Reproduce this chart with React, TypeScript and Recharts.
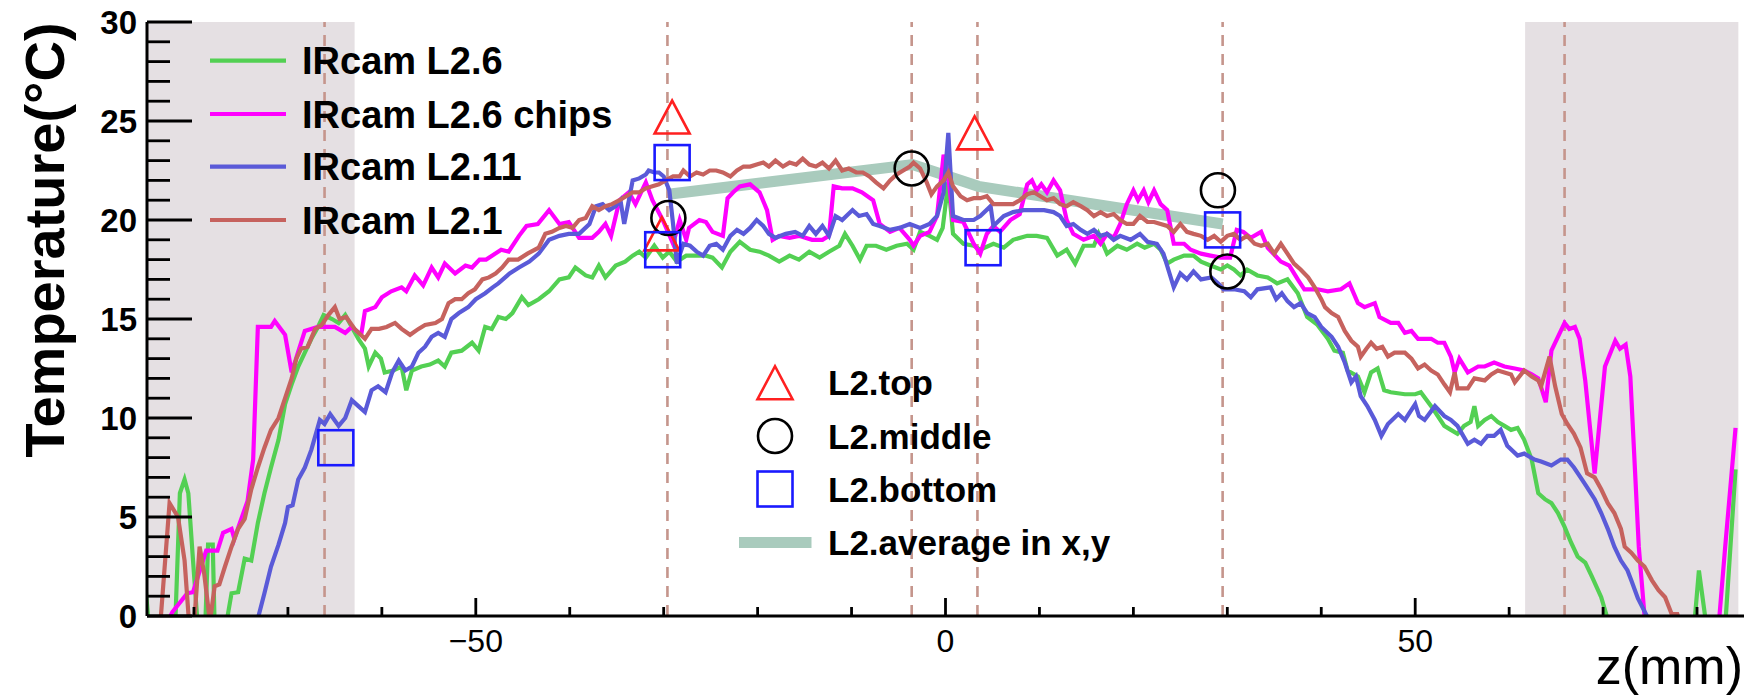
import React from 'react';
import { ComposedChart, Line, Scatter, XAxis, YAxis, ReferenceArea, ReferenceLine } from 'recharts';

if (typeof document !== 'undefined') {
  document.body.style.margin = '0';
  document.body.style.overflow = 'hidden';
}

const W = 1759;
const H = 698;
const FONT = '"Liberation Sans", Arial, Helvetica, sans-serif';

// ---- axes / ticks ----
const zDomain: [number, number] = [-85, 85];
const tDomain: [number, number] = [0, 30];
const zTicks = [-80, -70, -60, -50, -40, -30, -20, -10, 0, 10, 20, 30, 40, 50, 60, 70, 80];
const zLabelTicks = [-50, 0, 50];
const tTicks = [0, 1, 2, 3, 4, 5, 6, 7, 8, 9, 10, 11, 12, 13, 14, 15, 16, 17, 18, 19, 20, 21, 22, 23, 24, 25, 26, 27, 28, 29, 30];
const tLabelTicks = [0, 5, 10, 15, 20, 25, 30];
const dashedZ = [-66.1, -29.6, -3.6, 3.4, 29.5, 65.9];
const shadedZ: [number, number][] = [[-85, -62.9], [61.7, 84.4]];

// ---- series: [z (mm), temperature (C)] ----
const irL26: [number, number][] = [
  [-85.2, 1.7], [-84.8, -0.5], [-82.0, -0.5], [-81.5, 6.2], [-81.0, 6.9], [-80.6, 6.2], [-80.1, 2.8], [-79.6, -0.5], [-78.8, -0.5], [-78.5, 3.6], [-78.0, 3.6], [-77.8, -0.5], [-76.6, -0.5], [-76.0, 1.15], [-75.3, 1.2], [-74.6, 2.9], [-73.9, 2.8], [-73.2, 4.7], [-72.5, 6.2], [-71.8, 7.5], [-71.0, 8.9], [-70.3, 10.7], [-69.6, 11.7], [-68.9, 12.6], [-68.2, 13.3], [-67.5, 14.0], [-66.8, 14.6], [-66.2, 15.2], [-65.3, 15.0], [-64.6, 14.8], [-63.9, 15.2], [-63.2, 14.6], [-62.5, 14.0], [-61.8, 13.5], [-61.4, 12.6], [-60.7, 13.3], [-60.1, 13.0], [-59.7, 12.3], [-58.8, 12.4], [-57.9, 12.6], [-57.4, 11.4], [-56.8, 12.4], [-55.8, 12.6], [-54.9, 12.7], [-54.0, 12.9], [-53.3, 12.6], [-52.6, 13.3], [-51.5, 13.4], [-50.4, 13.8], [-49.7, 13.4], [-49.0, 14.6], [-48.3, 14.5], [-47.6, 15.1], [-46.8, 15.0], [-46.1, 15.3], [-45.1, 16.1], [-44.4, 15.7], [-43.3, 16.0], [-42.2, 16.4], [-41.1, 17.0], [-40.1, 17.1], [-39.4, 17.6], [-38.3, 17.2], [-37.6, 17.1], [-36.9, 17.7], [-36.2, 17.1], [-35.1, 17.7], [-34.1, 17.9], [-33.3, 18.2], [-32.6, 18.4], [-31.9, 18.1], [-31.0, 18.7], [-30.1, 18.1], [-29.4, 18.4], [-28.6, 17.9], [-27.6, 18.2], [-26.5, 18.2], [-25.5, 18.2], [-24.8, 18.1], [-23.8, 17.6], [-22.9, 18.4], [-21.9, 18.9], [-20.8, 18.5], [-19.8, 18.4], [-18.8, 18.2], [-17.7, 17.9], [-16.6, 18.2], [-15.6, 18.0], [-14.5, 18.4], [-13.4, 18.1], [-12.4, 18.4], [-11.3, 18.7], [-10.7, 19.3], [-9.9, 18.7], [-9.1, 18.0], [-8.4, 18.7], [-7.4, 18.7], [-6.3, 18.5], [-5.2, 18.7], [-4.1, 18.8], [-3.4, 18.5], [-2.7, 19.4], [-1.7, 19.2], [-0.9, 19.0], [-0.3, 19.6], [0.3, 21.9], [0.8, 19.3], [1.9, 18.8], [3.0, 18.7], [3.7, 18.5], [5.1, 18.8], [6.2, 18.6], [7.2, 19.0], [8.7, 19.2], [9.7, 19.2], [10.8, 19.1], [11.9, 18.2], [12.9, 18.5], [13.8, 17.8], [14.7, 18.7], [15.8, 18.7], [16.3, 19.3], [17.2, 18.3], [18.3, 18.7], [19.3, 18.5], [20.4, 18.8], [21.2, 18.6], [22.2, 18.8], [22.9, 18.5], [23.6, 17.8], [24.3, 18.0], [25.4, 18.2], [26.4, 18.2], [27.2, 17.9], [28.2, 17.7], [29.3, 17.5], [30.0, 17.7], [30.7, 17.5], [31.4, 17.2], [32.1, 17.5], [33.2, 17.2], [34.3, 17.1], [35.3, 16.8], [36.4, 17.0], [37.5, 16.3], [38.5, 15.1], [39.6, 14.7], [40.7, 14.0], [41.4, 13.4], [42.3, 13.3], [42.8, 12.4], [43.9, 12.1], [44.6, 11.3], [45.3, 12.3], [46.0, 12.5], [46.7, 11.4], [47.4, 11.3], [48.9, 11.2], [50.0, 11.2], [50.6, 11.3], [51.7, 10.6], [52.4, 10.1], [53.1, 9.6], [53.8, 9.4], [54.5, 9.2], [55.2, 9.6], [55.9, 9.8], [56.3, 10.6], [56.7, 9.6], [57.4, 9.9], [58.1, 10.1], [58.8, 9.8], [59.5, 9.6], [60.2, 9.4], [60.9, 9.5], [61.6, 8.9], [62.4, 7.9], [63.1, 6.2], [63.8, 5.9], [64.5, 5.7], [65.2, 5.2], [65.9, 4.5], [66.6, 3.7], [67.3, 3.0], [68.1, 2.7], [68.8, 2.0], [69.8, 0.95], [70.7, -0.5], [79.7, -0.5], [80.2, 2.3], [81.0, -0.5], [83.0, -0.5], [84.1, 7.4],
];

const irL26chips: [number, number][] = [
  [-83.0, -0.5], [-82.3, 0.2], [-80.7, 1.15], [-80.1, 1.2], [-78.7, 3.3], [-77.5, 3.3], [-76.9, 4.2], [-76.0, 4.4], [-75.7, 3.9], [-74.3, 5.8], [-73.7, 7.9], [-73.2, 14.6], [-71.8, 14.6], [-71.4, 14.9], [-70.3, 14.2], [-69.6, 12.3], [-68.2, 14.4], [-66.8, 14.6], [-65.0, 14.6], [-63.9, 14.3], [-63.2, 14.6], [-62.2, 14.2], [-61.8, 15.4], [-60.7, 15.6], [-60.0, 16.1], [-59.0, 16.4], [-57.9, 16.6], [-57.4, 16.4], [-56.5, 17.2], [-55.6, 16.7], [-54.7, 17.6], [-54.0, 17.1], [-53.3, 17.8], [-52.2, 17.3], [-51.1, 17.7], [-50.4, 17.6], [-49.6, 18.0], [-48.9, 18.0], [-47.3, 18.5], [-46.5, 18.4], [-45.4, 19.2], [-44.6, 19.7], [-43.4, 19.8], [-42.2, 20.5], [-41.1, 19.8], [-40.1, 19.9], [-39.0, 19.1], [-37.6, 19.1], [-36.9, 19.4], [-36.2, 19.8], [-35.6, 19.2], [-34.7, 21.0], [-33.7, 21.4], [-33.0, 20.8], [-31.9, 21.9], [-31.2, 21.0], [-30.1, 20.0], [-29.0, 18.8], [-28.3, 20.0], [-27.6, 19.0], [-27.3, 19.6], [-26.2, 20.0], [-25.5, 19.9], [-24.8, 19.4], [-23.7, 19.2], [-23.2, 21.1], [-22.6, 21.4], [-21.9, 21.7], [-20.8, 21.8], [-19.8, 21.4], [-19.0, 20.5], [-18.4, 19.0], [-17.7, 19.2], [-16.6, 19.1], [-15.6, 19.2], [-14.2, 19.0], [-13.1, 19.0], [-12.4, 19.2], [-11.9, 21.7], [-11.0, 21.6], [-9.9, 21.6], [-8.9, 21.4], [-7.7, 21.0], [-7.0, 19.8], [-5.9, 19.4], [-4.9, 19.6], [-3.8, 19.0], [-3.4, 18.7], [-2.7, 19.2], [-1.7, 19.4], [-0.9, 20.2], [-0.2, 23.3], [0.3, 22.2], [0.8, 20.0], [1.9, 19.9], [3.0, 18.8], [3.7, 18.3], [4.4, 19.3], [5.1, 19.7], [5.8, 19.4], [6.9, 20.0], [7.9, 20.3], [8.7, 21.8], [9.2, 22.0], [9.7, 21.5], [10.2, 21.8], [10.8, 21.4], [11.5, 22.0], [12.2, 21.5], [12.9, 20.0], [13.6, 19.3], [14.7, 19.0], [15.8, 19.2], [16.5, 18.8], [17.2, 19.3], [17.9, 19.1], [18.6, 19.8], [19.3, 20.8], [20.0, 21.5], [20.5, 21.0], [21.1, 21.5], [21.6, 20.9], [22.2, 21.5], [22.9, 20.8], [23.6, 20.5], [24.3, 18.8], [25.4, 18.8], [26.1, 18.5], [27.2, 18.3], [28.2, 18.2], [29.3, 18.1], [30.3, 18.1], [31.0, 19.5], [31.7, 19.4], [32.5, 19.1], [33.6, 19.4], [34.3, 18.6], [35.7, 17.9], [36.6, 17.7], [37.5, 17.0], [38.2, 16.5], [39.6, 16.5], [40.7, 16.4], [42.1, 16.5], [43.0, 16.8], [43.9, 15.8], [44.6, 15.6], [45.7, 15.8], [46.2, 15.1], [47.4, 14.8], [48.2, 14.8], [48.9, 14.3], [49.6, 14.4], [50.3, 14.0], [51.7, 14.0], [52.4, 13.8], [53.1, 13.8], [53.8, 13.1], [54.2, 12.3], [54.7, 13.0], [55.6, 12.3], [56.7, 12.6], [57.4, 12.6], [58.4, 12.8], [59.5, 12.6], [60.6, 12.5], [61.6, 12.4], [62.4, 12.2], [63.1, 12.0], [63.9, 10.8], [64.5, 13.4], [65.9, 14.8], [66.4, 14.5], [67.0, 14.6], [67.5, 14.0], [68.1, 11.9], [69.1, 7.2], [70.2, 12.6], [71.3, 13.9], [71.8, 13.5], [72.4, 13.7], [72.9, 12.1], [73.8, 3.5], [74.5, -0.5], [82.3, -0.5], [83.0, 3.5], [84.1, 9.5],
];

const irL211: [number, number][] = [
  [-73.4, -0.5], [-72.5, 1.15], [-71.8, 2.5], [-71.0, 3.6], [-70.3, 4.7], [-70.0, 5.5], [-69.5, 5.6], [-68.9, 6.9], [-68.2, 7.5], [-67.5, 8.4], [-66.6, 9.9], [-66.1, 9.7], [-65.5, 10.2], [-64.6, 9.6], [-63.9, 10.0], [-63.2, 10.9], [-62.5, 10.6], [-61.8, 10.3], [-61.1, 11.4], [-60.4, 11.6], [-59.6, 11.3], [-58.9, 12.3], [-58.2, 12.9], [-57.5, 12.4], [-56.8, 12.6], [-56.1, 13.3], [-55.4, 13.6], [-54.7, 14.1], [-54.0, 14.3], [-53.3, 14.1], [-52.6, 15.0], [-51.8, 15.3], [-50.8, 15.6], [-50.0, 16.0], [-49.0, 16.3], [-48.2, 16.6], [-47.6, 16.8], [-46.4, 17.3], [-45.4, 17.6], [-44.3, 17.9], [-43.3, 18.3], [-42.2, 19.0], [-41.1, 19.2], [-40.1, 19.3], [-39.0, 19.3], [-37.9, 19.8], [-37.2, 20.7], [-36.5, 20.8], [-35.8, 20.5], [-35.1, 20.7], [-34.6, 21.0], [-34.2, 19.8], [-33.7, 21.0], [-33.3, 22.0], [-32.6, 22.1], [-31.9, 22.3], [-31.6, 22.5], [-31.0, 22.4], [-30.5, 22.4], [-30.0, 22.2], [-29.4, 21.5], [-29.0, 19.8], [-28.6, 17.8], [-27.9, 18.8], [-27.2, 18.7], [-26.5, 18.4], [-25.8, 18.2], [-25.1, 18.7], [-24.4, 18.8], [-23.7, 18.5], [-22.9, 19.2], [-22.2, 19.5], [-21.5, 19.3], [-20.8, 19.6], [-20.1, 20.0], [-19.4, 19.7], [-18.8, 19.3], [-18.1, 19.1], [-17.0, 19.3], [-16.0, 19.4], [-15.2, 19.2], [-14.5, 19.7], [-13.8, 19.3], [-13.1, 19.7], [-12.4, 19.2], [-11.7, 20.2], [-11.0, 20.0], [-9.9, 20.5], [-9.2, 20.2], [-8.4, 20.3], [-7.7, 19.8], [-7.0, 19.7], [-5.9, 19.5], [-4.9, 19.6], [-3.8, 19.8], [-2.7, 19.6], [-1.7, 19.8], [-0.9, 20.2], [-0.2, 21.4], [0.3, 24.4], [0.8, 20.2], [1.9, 20.0], [3.0, 20.0], [3.7, 20.2], [4.8, 20.7], [5.1, 19.7], [6.2, 20.2], [7.2, 20.4], [8.3, 20.5], [9.4, 20.5], [10.5, 20.5], [11.5, 20.4], [12.2, 20.2], [12.9, 19.7], [13.6, 19.8], [14.4, 19.5], [15.1, 19.3], [15.8, 19.5], [16.5, 19.2], [17.2, 19.3], [17.9, 19.0], [18.6, 19.2], [19.7, 19.0], [20.7, 19.3], [21.5, 18.9], [22.5, 18.8], [23.2, 18.3], [24.3, 16.6], [25.0, 17.3], [25.7, 17.0], [26.4, 17.4], [27.2, 17.0], [28.3, 17.1], [29.0, 16.8], [29.6, 16.5], [30.7, 16.5], [31.8, 16.4], [32.5, 16.1], [33.2, 16.5], [34.6, 16.6], [35.2, 16.0], [35.8, 16.3], [36.4, 15.9], [37.1, 15.6], [37.8, 15.8], [38.5, 15.3], [39.3, 15.1], [40.0, 14.6], [41.1, 14.1], [41.8, 13.6], [42.5, 12.8], [43.2, 11.8], [43.7, 12.1], [44.2, 11.1], [44.9, 10.6], [45.7, 9.9], [46.4, 9.1], [47.1, 9.7], [48.2, 10.2], [48.9, 9.9], [50.0, 10.7], [50.4, 10.1], [51.0, 9.9], [52.1, 10.6], [53.1, 10.1], [53.8, 9.9], [54.5, 9.6], [55.6, 8.7], [56.3, 8.9], [57.0, 8.7], [57.7, 9.1], [58.4, 9.1], [59.1, 9.4], [59.8, 8.6], [60.9, 8.1], [61.6, 8.2], [62.7, 7.9], [63.4, 7.8], [64.5, 7.6], [65.5, 7.9], [66.2, 7.9], [66.9, 7.5], [67.6, 7.0], [68.3, 6.5], [69.1, 5.9], [69.8, 5.2], [70.5, 4.4], [71.2, 3.5], [71.9, 2.8], [72.6, 2.3], [73.0, 1.8], [73.7, 0.9], [75.2, -0.5],
];

const irL21: [number, number][] = [
  [-83.6, -0.5], [-82.6, 5.7], [-81.7, 5.0], [-81.0, 2.8], [-80.5, -0.5], [-80.0, -0.5], [-79.4, 3.5], [-78.9, 2.1], [-78.3, -0.3], [-77.8, 1.5], [-77.3, 1.6], [-76.7, 2.5], [-76.0, 3.5], [-75.3, 4.4], [-74.6, 4.9], [-73.9, 6.4], [-73.2, 7.5], [-72.5, 8.5], [-71.8, 9.4], [-71.0, 10.0], [-70.3, 11.0], [-69.6, 12.0], [-69.1, 13.0], [-68.6, 13.5], [-67.9, 13.6], [-67.1, 14.5], [-66.4, 14.7], [-65.7, 15.2], [-65.0, 15.6], [-64.5, 15.0], [-63.8, 15.1], [-62.9, 14.5], [-61.8, 14.0], [-61.1, 14.5], [-60.3, 14.5], [-59.5, 14.6], [-58.6, 14.8], [-57.9, 14.5], [-57.0, 14.2], [-56.1, 14.5], [-55.4, 14.7], [-54.3, 14.8], [-53.6, 15.0], [-52.9, 15.8], [-52.2, 16.0], [-51.5, 16.0], [-50.8, 16.3], [-50.1, 16.5], [-49.3, 17.0], [-48.6, 17.1], [-47.9, 17.3], [-47.2, 17.6], [-46.5, 18.0], [-45.5, 18.0], [-44.5, 18.3], [-43.3, 18.6], [-42.6, 19.3], [-41.9, 19.4], [-41.1, 19.6], [-40.4, 19.7], [-39.7, 19.6], [-39.0, 20.0], [-38.3, 20.1], [-37.6, 20.7], [-36.9, 20.5], [-36.2, 20.7], [-35.5, 20.8], [-34.7, 21.0], [-34.0, 21.2], [-33.3, 21.4], [-32.6, 21.4], [-31.9, 21.6], [-31.2, 21.7], [-30.5, 21.8], [-29.8, 22.0], [-29.0, 22.2], [-28.3, 22.2], [-27.9, 22.5], [-27.2, 22.2], [-26.5, 22.4], [-25.8, 22.3], [-25.1, 22.5], [-24.4, 22.5], [-23.7, 22.4], [-22.9, 22.2], [-22.2, 22.5], [-21.5, 22.7], [-20.8, 22.7], [-20.1, 22.8], [-19.4, 22.9], [-18.8, 22.7], [-18.1, 23.0], [-17.3, 22.7], [-16.6, 22.9], [-15.9, 22.8], [-15.2, 23.1], [-14.5, 22.8], [-13.8, 22.7], [-13.1, 22.9], [-12.4, 22.6], [-11.7, 23.0], [-11.0, 22.5], [-10.3, 22.6], [-9.5, 22.4], [-8.8, 22.4], [-8.1, 22.2], [-7.4, 21.9], [-6.6, 21.6], [-5.9, 22.0], [-5.2, 22.3], [-4.5, 22.5], [-3.8, 22.7], [-3.4, 22.9], [-2.7, 22.6], [-2.0, 21.9], [-1.5, 21.3], [-0.9, 21.7], [-0.2, 22.0], [0.3, 22.4], [0.8, 21.7], [1.6, 21.2], [2.3, 21.0], [3.0, 21.1], [3.7, 21.1], [4.4, 21.2], [5.1, 20.8], [6.2, 20.8], [7.2, 20.8], [7.9, 21.0], [8.7, 21.3], [9.4, 21.4], [10.1, 21.2], [10.8, 21.0], [11.5, 21.1], [12.2, 20.8], [12.9, 20.7], [13.6, 20.9], [14.4, 20.7], [15.1, 20.5], [15.8, 20.2], [16.5, 20.4], [17.2, 20.2], [17.9, 20.3], [18.6, 20.0], [19.3, 19.8], [20.0, 19.8], [20.7, 20.2], [21.5, 19.9], [22.2, 19.9], [22.9, 19.8], [23.6, 19.7], [24.3, 19.4], [25.0, 19.8], [25.7, 19.4], [26.4, 19.3], [27.2, 19.2], [27.9, 19.0], [28.6, 19.2], [29.3, 18.9], [30.0, 19.2], [30.7, 19.3], [31.4, 19.0], [32.1, 19.2], [32.9, 18.8], [33.6, 18.7], [34.3, 18.8], [35.0, 18.3], [35.7, 18.8], [36.4, 18.3], [37.1, 17.8], [37.8, 17.5], [38.6, 17.1], [39.3, 16.6], [40.0, 16.0], [40.4, 15.6], [41.1, 15.3], [41.8, 15.1], [42.5, 14.4], [43.2, 13.9], [43.9, 13.6], [44.2, 13.1], [44.8, 13.5], [45.3, 13.8], [45.9, 13.5], [46.5, 13.6], [47.1, 13.1], [47.8, 13.3], [48.9, 13.3], [49.6, 13.0], [50.3, 12.5], [51.0, 12.7], [51.7, 12.4], [52.4, 12.2], [53.1, 11.7], [53.7, 11.3], [54.2, 12.3], [54.5, 11.5], [55.6, 11.5], [56.3, 12.0], [57.4, 11.9], [58.1, 12.2], [58.8, 12.4], [59.5, 12.3], [60.2, 12.2], [60.6, 11.8], [61.6, 12.4], [62.4, 12.1], [63.1, 11.9], [63.4, 11.6], [64.3, 13.1], [64.9, 11.6], [65.6, 10.2], [66.2, 9.7], [66.9, 9.2], [67.6, 8.5], [68.3, 7.2], [69.1, 7.0], [69.8, 6.4], [70.5, 5.7], [71.2, 5.2], [71.9, 4.4], [72.3, 3.5], [73.0, 3.2], [73.7, 2.8], [74.4, 2.5], [75.2, 1.8], [75.9, 1.3], [76.6, 0.95], [77.3, 0.1], [77.9, 0.1], [78.3, -0.5],
];

const avgL2: [number, number][] = [[-29.5, 21.3], [-3.5, 22.8], [3.5, 21.7], [29.5, 19.8]];
const topL2: [number, number][] = [[-29.1, 25.2], [-30.2, 19.3], [3.1, 24.4]];
const middleL2: [number, number][] = [[-29.5, 20.1], [-3.6, 22.6], [29.0, 21.5], [30.0, 17.4]];
const bottomL2: [number, number][] = [[-64.9, 8.5], [-29.1, 22.9], [-30.1, 18.5], [4.0, 18.6], [29.5, 19.5]];

const lineNames = ['IRcam L2.6', 'IRcam L2.6 chips', 'IRcam L2.11', 'IRcam L2.1'];
const markerNames = ['L2.top', 'L2.middle', 'L2.bottom', 'L2.average in x,y'];

const C = {
  green: '#53d053',
  magenta: '#ff00ff',
  blue: '#5a5ad8',
  brown: '#c6625e',
  avg: '#a9cbbd',
  tri: '#ff2020',
  circ: '#000000',
  sq: '#1a1aff',
  dash: '#c5958c',
  shade: '#e5e0e3',
};
const lineColors = [C.green, C.magenta, C.blue, C.brown];
const LW = 4.2;

const pts = (a: [number, number][]) => a.map(([x, y]) => ({ x, y }));

const MW = 17.5; // marker half size
const triangle = (cx: number, cy: number, color: string) => (
  <polygon points={`${cx - MW},${cy + 16.5} ${cx + MW},${cy + 16.5} ${cx},${cy - 16.5}`} fill="none" stroke={color} strokeWidth={2.6} />
);
const circle = (cx: number, cy: number, color: string) => (
  <circle cx={cx} cy={cy} r={17} fill="none" stroke={color} strokeWidth={2.6} />
);
const square = (cx: number, cy: number, color: string) => (
  <rect x={cx - MW} y={cy - MW} width={2 * MW} height={2 * MW} fill="none" stroke={color} strokeWidth={2.6} />
);

const TriShape = (p: any) => triangle(p.cx, p.cy, C.tri);
const CircShape = (p: any) => circle(p.cx, p.cy, C.circ);
const SqShape = (p: any) => square(p.cx, p.cy, C.sq);

const fmt = (v: number) => (v < 0 ? `\u2212${-v}` : `${v}`);

const BottomTick = (p: any) => {
  const { x, y, payload } = p;
  const major = zLabelTicks.includes(payload.value);
  return (
    <g>
      <line x1={x} x2={x} y1={y} y2={y - (major ? 18 : 9)} stroke="#000" strokeWidth={2.8} />
      {major && (
        <text x={x} y={y + 36} textAnchor="middle" fontSize={32} fontFamily={FONT} fill="#000">
          {fmt(payload.value)}
        </text>
      )}
    </g>
  );
};
const TopTick = (p: any) => {
  const { x, y, payload } = p;
  const major = zLabelTicks.includes(payload.value);
  return <line x1={x} x2={x} y1={y} y2={y + (major ? 18 : 9)} stroke="#000" strokeWidth={2.8} />;
};
const LeftTick = (p: any) => {
  const { x, y, payload } = p;
  const major = tLabelTicks.includes(payload.value);
  return (
    <g>
      <line x1={x} x2={x + (major ? 45 : 23)} y1={y} y2={y} stroke="#000" strokeWidth={2.8} />
      {major && (
        <text x={x - 10} y={y + 12} textAnchor="end" fontSize={33} fontWeight="bold" fontFamily={FONT} fill="#000">
          {payload.value}
        </text>
      )}
    </g>
  );
};
const RightTick = (p: any) => {
  const { x, y, payload } = p;
  const major = tLabelTicks.includes(payload.value);
  return <line x1={x} x2={x - (major ? 45 : 23)} y1={y} y2={y} stroke="#000" strokeWidth={2.8} />;
};

const axisLine = { stroke: '#000', strokeWidth: 3 };

export default function App() {
  const leg1Y = [60.7, 114, 166.7, 220];
  const leg2Y = [382.7, 436, 489, 542.5];
  return (
    <div style={{ position: 'relative', width: W, height: H, background: '#fff', fontFamily: FONT }}>
      <ComposedChart width={W} height={H} margin={{ top: 22, right: 15, bottom: 0, left: 0 }}>
        <XAxis xAxisId="b" dataKey="x" type="number" domain={zDomain} ticks={zTicks} interval={0} allowDataOverflow
          orientation="bottom" height={82} tickSize={0} tickMargin={0} tickLine={false} axisLine={axisLine} tick={BottomTick} />
        <XAxis xAxisId="t" dataKey="x" type="number" domain={zDomain} ticks={zTicks} interval={0} allowDataOverflow
          orientation="top" height={0} tickSize={0} tickMargin={0} tickLine={false} axisLine={axisLine} tick={TopTick} />
        <YAxis yAxisId="l" type="number" domain={tDomain} ticks={tTicks} interval={0} allowDataOverflow
          orientation="left" width={147} tickSize={0} tickMargin={0} tickLine={false} axisLine={axisLine} tick={LeftTick} />
        <YAxis yAxisId="r" type="number" domain={tDomain} ticks={tTicks} interval={0} allowDataOverflow
          orientation="right" width={0} tickSize={0} tickMargin={0} tickLine={false} axisLine={axisLine} tick={RightTick} />

        {shadedZ.map(([a, b], i) => (
          <ReferenceArea key={`s${i}`} xAxisId="b" yAxisId="l" x1={a} x2={b} y1={0} y2={30} fill={C.shade} fillOpacity={1} stroke="none" />
        ))}
        {dashedZ.map((z, i) => (
          <ReferenceLine key={`d${i}`} xAxisId="b" yAxisId="l" x={z} stroke={C.dash} strokeWidth={2.6} strokeDasharray="11 8" />
        ))}

        <Line xAxisId="b" yAxisId="l" data={pts(avgL2)} dataKey="y" stroke={C.avg} strokeWidth={11} dot={false} activeDot={false} isAnimationActive={false} type="linear" />
        {[irL26, irL26chips, irL211, irL21].map((s, i) => (
          <Line key={`l${i}`} xAxisId="b" yAxisId="l" data={pts(s)} dataKey="y" name={lineNames[i]} stroke={lineColors[i]} strokeWidth={LW}
            dot={false} activeDot={false} isAnimationActive={false} type="linear" />
        ))}
        <Scatter xAxisId="b" yAxisId="l" data={pts(topL2)} dataKey="y" name="L2.top" shape={TriShape} isAnimationActive={false} />
        <Scatter xAxisId="b" yAxisId="l" data={pts(middleL2)} dataKey="y" name="L2.middle" shape={CircShape} isAnimationActive={false} />
        <Scatter xAxisId="b" yAxisId="l" data={pts(bottomL2)} dataKey="y" name="L2.bottom" shape={SqShape} isAnimationActive={false} />
      </ComposedChart>

      <svg width={W} height={H} style={{ position: 'absolute', left: 0, top: 0, pointerEvents: 'none' }}>
        <text transform="translate(64,240) rotate(-90)" textAnchor="middle" fontSize={56} fontWeight="bold" fontFamily={FONT} fill="#000">
          Temperature(°C)
        </text>
        <text x={1743} y={684} textAnchor="end" fontSize={52} fontFamily={FONT} fill="#000">z(mm)</text>

        {lineNames.map((n, i) => (
          <g key={`lg${i}`}>
            <line x1={210} x2={286} y1={leg1Y[i]} y2={leg1Y[i]} stroke={lineColors[i]} strokeWidth={LW} />
            <text x={302} y={leg1Y[i] + 13.5} fontSize={38} fontWeight="bold" fontFamily={FONT} fill="#000">{n}</text>
          </g>
        ))}

        {triangle(775, leg2Y[0], C.tri)}
        {circle(775, leg2Y[1], C.circ)}
        {square(775, leg2Y[2], C.sq)}
        <line x1={739} x2={811.5} y1={leg2Y[3]} y2={leg2Y[3]} stroke={C.avg} strokeWidth={11} />
        {markerNames.map((n, i) => (
          <text key={`m${i}`} x={828} y={leg2Y[i] + 12.5} fontSize={35} fontWeight="bold" fontFamily={FONT} fill="#000">{n}</text>
        ))}
      </svg>
    </div>
  );
}
